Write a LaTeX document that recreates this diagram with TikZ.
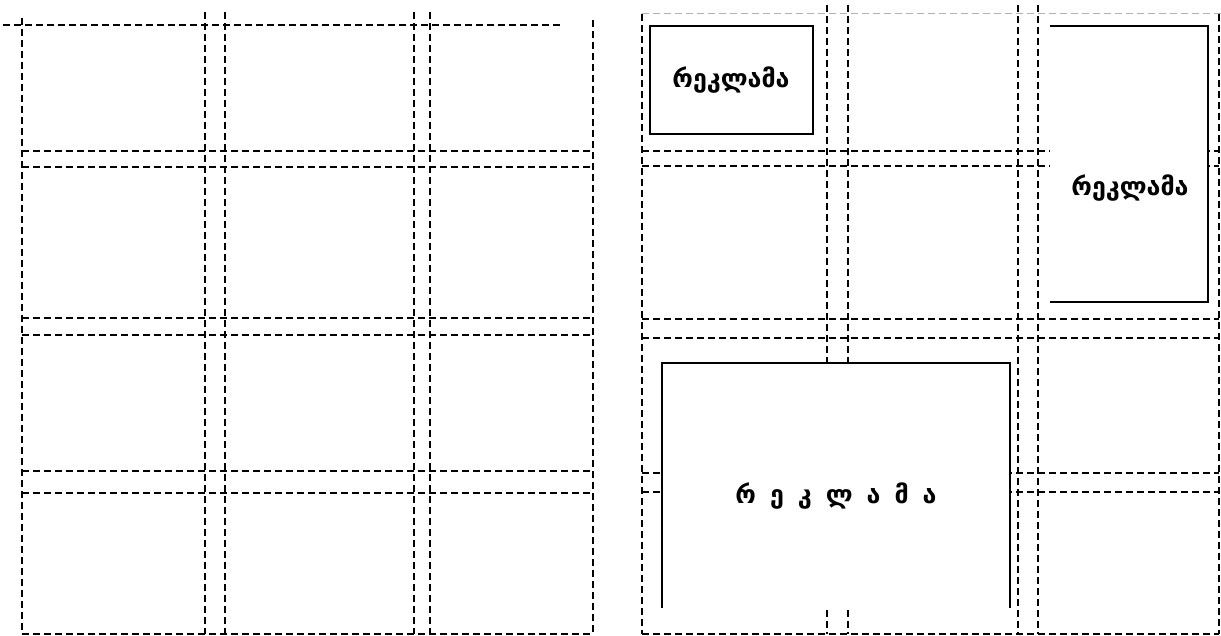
\documentclass[tikz,border=0pt]{standalone}
\usepackage{fontspec}
\newfontfamily\geofont{DejaVu Sans}
\usetikzlibrary{positioning}

\tikzset{
  grid line/.style={dash pattern=on 7pt off 4pt, line width=1.7pt},
  ad frame/.style={line width=1.5pt},
  ad text/.style={font=\geofont\bfseries\fontsize{25}{29}\selectfont},
}

\begin{document}
\begin{tikzpicture}[x=1pt, y=-1pt]
	\useasboundingbox (0,0) rectangle (1221,636);
	% left page: plain grid
	\draw[grid line] (3,25) -- (562,25);
	\foreach \y in {151,167,318,335,471,493,634}
		\draw[grid line] (22,\y) -- (593,\y);
	\foreach \x in {205,225,414,430}
		\draw[grid line] (\x,12) -- (\x,634);
	\draw[grid line] (22,18) -- (22,634);
	\draw[grid line] (593,20) -- (593,634);
	
	% right page: grid with ads
	\draw[grid line, gray!60, line width=1pt] (642,14) -- (1221,14);
	\foreach \y in {151,166,319,338,473,492,634}
		\draw[grid line] (642,\y) -- (1219,\y);
	\foreach \x in {827,848,1018,1038}
		\draw[grid line] (\x,5) -- (\x,634);
	\draw[grid line] (642,14) -- (642,634);
	\draw[grid line] (1219,14) -- (1219,634);
	
	\fill[white] (650,26) rectangle (813,134);
	\draw[ad frame] (650,26) rectangle (813,134);
	\node[ad text] (ad1) at (731,80) {რეკლამა};
	
	\fill[white] (1050,26) rectangle (1208,302);
	\draw[ad frame] (1050,26) -- (1208,26) -- (1208,302) -- (1050,302);
	\node[ad text] (ad2) at (1130,188) {რეკლამა};
	
	\fill[white] (662,363) rectangle (1010,608);
	\draw[ad frame] (662,608) -- (662,363) -- (1010,363) -- (1010,608);
	\node[ad text] (ad3) at (836,496)
		{რ\hspace{14pt}ე\hspace{14pt}კ\hspace{14pt}ლ\hspace{14pt}ა\hspace{14pt}მ\hspace{14pt}ა};
\end{tikzpicture}
\end{document}
